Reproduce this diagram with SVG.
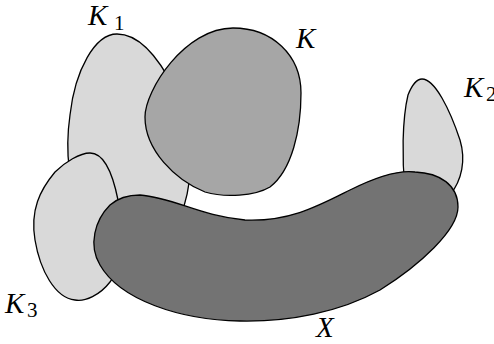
<svg xmlns="http://www.w3.org/2000/svg" width="494" height="344" viewBox="0 0 494 344">
<style>
.s{stroke:#000;stroke-width:1.3;stroke-linejoin:round}
.l{fill:#d9d9d9}
.m{fill:#a6a6a6}
.d{fill:#737373}
.t{font-family:"Liberation Serif",serif;font-size:29px;fill:#000}
.i{font-style:italic}
.sub{font-size:21px;font-style:normal}
</style>
<rect width="494" height="344" fill="#fff"/>
<g id="K1"><path class="s l" d="M117,34 C140,34 160,60 175,90 C195,130 195,170 183,210 C170,240 110,240 85,215 C68,190 65,150 70,115 C75,70 95,34 117,34 Z"/></g>
<g id="K"><path class="s m" d="M233,28 C272,28 301,55 301,93 C301,130 292,170 270,187 C255,196 225,198 205,192 C175,180 145,150 145,117 C145,90 185,28 233,28 Z"/></g>
<g id="K2"><path class="s l" d="M422,79 C435,79 450,110 460,140 C466,160 462,180 450,195 C440,205 415,205 405,190 C402,160 402,120 408,95 C412,85 416,79 422,79 Z"/></g>
<g id="K3"><path class="s l" d="M90,153 C105,153 113,175 118,200 C122,230 120,270 110,282 C100,295 85,302 75,300 C55,298 40,270 35,240 C30,210 40,190 55,172 C65,162 80,153 90,153 Z"/></g>
<g id="X"><path class="s d" d="M140,195 C175,198 200,216 245,220 C290,222 320,205 350,190 C380,175 400,170 415,172 C440,173 458,185 458,207 C458,230 420,265 380,290 C340,312 290,322 240,321 C180,320 120,300 100,265 C88,245 95,220 110,205 C118,198 128,195 140,195 Z"/></g>
<g id="labels">
<text class="t" x="88" y="25"><tspan class="i">K</tspan><tspan class="sub" x="114" y="30">1</tspan></text>
<text class="t i" x="296" y="48">K</text>
<text class="t" x="464" y="97"><tspan class="i">K</tspan><tspan class="sub" x="486" y="101">2</tspan></text>
<text class="t" x="5" y="313"><tspan class="i">K</tspan><tspan class="sub" x="27" y="317">3</tspan></text>
<text class="t i" x="316" y="337">X</text>
</g>
</svg>
